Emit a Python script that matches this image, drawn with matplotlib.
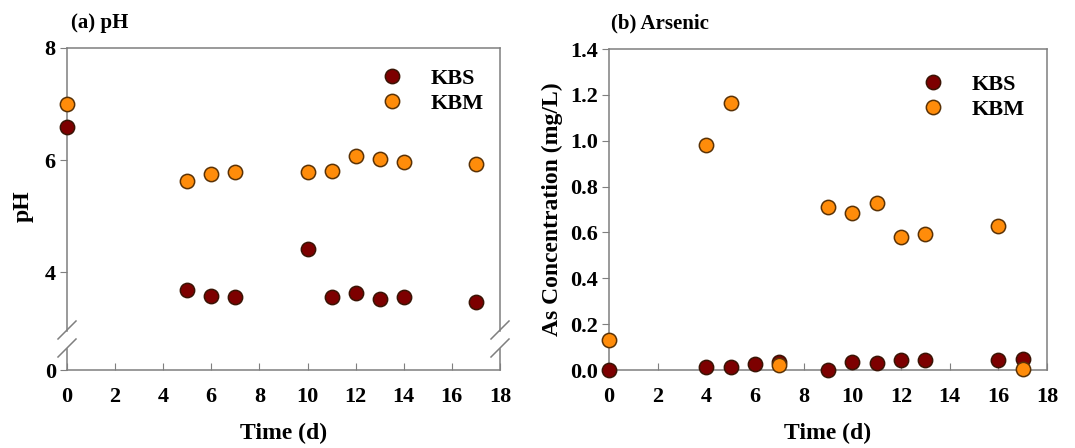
"""
Two-panel scatter: (a) pH with a broken y-axis, (b) arsenic concentration.
Writes out.png.
"""

import matplotlib
matplotlib.use("Agg")
import matplotlib.pyplot as plt
from matplotlib.lines import Line2D

plt.rcParams["font.family"] = ["Liberation Serif", "DejaVu Serif"]
plt.rcParams["font.weight"] = "bold"

# ---- data -------------------------------------------------------------
PH_DAYS = [0, 5, 6, 7, 10, 11, 12, 13, 14, 17]
PH_KBS = [6.59, 3.68, 3.58, 3.56, 4.42, 3.56, 3.62, 3.52, 3.55, 3.47]
PH_KBM = [7.00, 5.63, 5.75, 5.79, 5.79, 5.80, 6.07, 6.02, 5.97, 5.93]

AS_DAYS = [0, 4, 5, 6, 7, 9, 10, 11, 12, 13, 16, 17]
AS_KBS = [0.000, 0.015, 0.015, 0.025, 0.033, 0.000, 0.036, 0.031, 0.044, 0.044, 0.044, 0.050]
AS_KBM_DAYS = [0, 4, 5, 7, 9, 10, 11, 12, 13, 16, 17]
AS_KBM = [0.13, 0.98, 1.164, 0.022, 0.713, 0.684, 0.729, 0.581, 0.595, 0.629, 0.003]

X_TICKS = list(range(0, 19, 2))
SERIES = ["KBS", "KBM"]

# ---- style ------------------------------------------------------------
KBS_FACE, KBS_EDGE = "#7d0000", "#3a1405"
KBM_FACE, KBM_EDGE = "#ff8c0a", "#5a3206"
SPINE = "#7f7f7f"
MS = 10.3
FS_TICK = 16
FS_LABEL = 17
FIG_W, FIG_H = 1075, 448


def style_axis(ax):
    for sp in ax.spines.values():
        sp.set_color(SPINE)
        sp.set_linewidth(1.1)
    ax.tick_params(axis="x", direction="in", length=5, color=SPINE,
                   labelsize=FS_TICK, pad=12)
    ax.tick_params(axis="y", direction="out", length=5, color=SPINE,
                   labelsize=FS_TICK, pad=3)


def bold_ticks(ax):
    for lab in ax.get_xticklabels() + ax.get_yticklabels():
        lab.set_fontweight("bold")


def scatter(ax, x, y, face, edge):
    ax.plot(x, y, "o", ms=MS, mfc=face, mec=edge, mew=1.1, ls="none",
            clip_on=False, zorder=3)


def add_legend(ax, anchor):
    handles = [Line2D([], [], marker="o", ls="none", ms=MS, mfc=KBS_FACE,
                      mec=KBS_EDGE, mew=1.1),
               Line2D([], [], marker="o", ls="none", ms=MS, mfc=KBM_FACE,
                      mec=KBM_EDGE, mew=1.1)]
    ax.legend(handles, SERIES, loc="upper left", bbox_to_anchor=anchor,
              frameon=False, fontsize=16, handletextpad=0.75,
              labelspacing=0.2, borderaxespad=0)


def break_mark(x_px, y_px, half=9):
    # slash centred on a figure pixel position (origin top-left)
    fig.add_artist(Line2D([(x_px - half) / FIG_W, (x_px + half) / FIG_W],
                          [1 - (y_px + half) / FIG_H, 1 - (y_px - half) / FIG_H],
                          color=SPINE, lw=1.1))


fig = plt.figure(figsize=(FIG_W / 100, FIG_H / 100), dpi=100)

# ---- (a) pH, broken axis ---------------------------------------------
L, W = 0.0623, 0.4028
ax_top = fig.add_axes([L, 0.2612, W, 0.8929 - 0.2612])
ax_bot = fig.add_axes([L, 0.1741, W, 0.221 - 0.1741])
for ax in (ax_top, ax_bot):
    style_axis(ax)
    ax.set_xlim(0, 18)
scatter(ax_top, PH_DAYS, PH_KBS, KBS_FACE, KBS_EDGE)
scatter(ax_top, PH_DAYS, PH_KBM, KBM_FACE, KBM_EDGE)
ax_top.set_ylim(2.95, 8)
ax_top.set_yticks([4, 6, 8])
ax_top.spines["bottom"].set_visible(False)
ax_top.tick_params(axis="x", bottom=False, labelbottom=False)
ax_bot.set_ylim(0, 0.375)
ax_bot.set_yticks([0])
ax_bot.spines["top"].set_visible(False)
ax_bot.set_xticks(X_TICKS)
bold_ticks(ax_top)
bold_ticks(ax_bot)
for x_px in (67, 500):
    break_mark(x_px, 330)
    break_mark(x_px, 348)
ax_bot.set_xlabel("Time (d)", fontsize=FS_LABEL, fontweight="bold", labelpad=12)
fig.text(0.022, 0.54, "pH", rotation=90, fontsize=FS_LABEL, fontweight="bold",
         ha="center", va="center")
fig.text(0.066, 0.948, "(a) pH", fontsize=15, fontweight="bold", va="center")
add_legend(ax_top, (0.679, 0.96))

# ---- (b) arsenic ------------------------------------------------------
ax2 = fig.add_axes([0.5665, 0.1741, 0.4074, 0.8906 - 0.1741])
style_axis(ax2)
scatter(ax2, AS_DAYS, AS_KBS, KBS_FACE, KBS_EDGE)
scatter(ax2, AS_KBM_DAYS, AS_KBM, KBM_FACE, KBM_EDGE)
ax2.set_xlim(0, 18)
ax2.set_ylim(0, 1.4)
ax2.set_xticks(X_TICKS)
ax2.set_yticks([0, 0.2, 0.4, 0.6, 0.8, 1.0, 1.2, 1.4])
ax2.set_yticklabels([f"{v:.1f}" for v in ax2.get_yticks()])
bold_ticks(ax2)
ax2.set_xlabel("Time (d)", fontsize=FS_LABEL, fontweight="bold", labelpad=12)
ax2.set_ylabel("As Concentration (mg/L)", fontsize=FS_LABEL, fontweight="bold",
               labelpad=5)
fig.text(0.568, 0.948, "(b) Arsenic", fontsize=15, fontweight="bold", va="center")
add_legend(ax2, (0.669, 0.949))

fig.savefig("out.png", dpi=100)
